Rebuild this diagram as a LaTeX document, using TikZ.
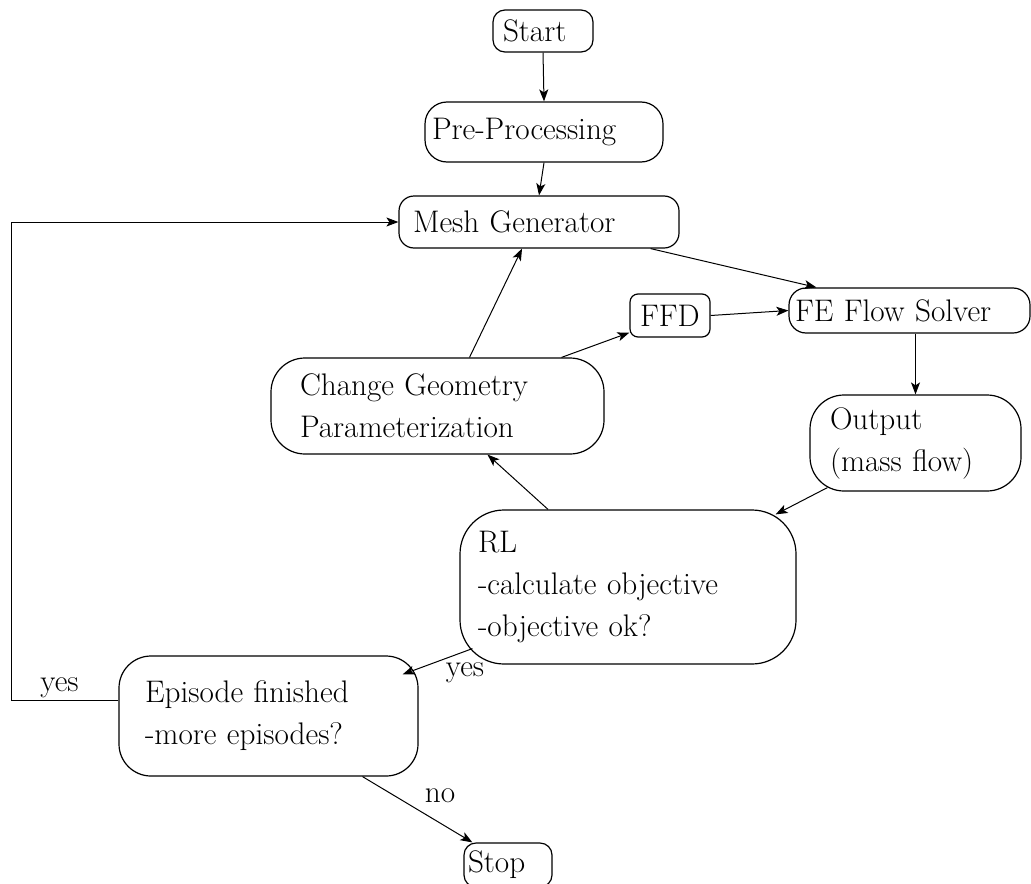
\documentclass[tikz,border=0pt]{standalone}
\usetikzlibrary{arrows.meta,calc}
\begin{document}
\begin{tikzpicture}[x=0.5pt,y=-0.5pt,
  font=\fontsize{15.6}{21}\selectfont,
  box/.style={draw,line width=0.6pt,align=left,inner ysep=0pt},
  arr/.style={-{Stealth[length=6pt,width=4.5pt,inset=1.5pt]},line width=0.5pt},
  lbl/.style={inner sep=1pt}]
\useasboundingbox (0,0) rectangle (1031,883);
\node[box,rounded corners=6pt,minimum height=21pt,text width=40pt,inner xsep=5pt] (start) at (543,31) {Start};
\node[box,rounded corners=11pt,minimum height=30pt,text width=112pt,inner xsep=3.5pt] (pre) at (544,132) {Pre-Processing};
\node[box,rounded corners=7.5pt,minimum height=26pt,text width=126pt,inner xsep=7pt] (mesh) at (539,222) {Mesh Generator};
\node[box,rounded corners=4pt,minimum height=21.5pt,text width=30pt,inner xsep=5pt] (ffd) at (670,315.5) {FFD};
\node[box,rounded corners=8.5pt,minimum height=22.5pt,text width=114.5pt,inner xsep=3pt] (fe) at (909.5,310.5) {FE Flow Solver};
\node[box,rounded corners=17pt,minimum height=48pt,text width=137.5pt,inner xsep=14.5pt] (change) at (437.5,406) {Change Geometry\\Parameterization};
\node[box,rounded corners=17pt,minimum height=48pt,text width=85.5pt,inner xsep=10pt] (output) at (915.5,443) {Output\\(mass flow)};
\node[box,rounded corners=22pt,minimum height=77pt,text width=150pt,inner xsep=9pt] (rl) at (628,587) {RL\\-calculate objective\\-objective ok?};
\node[box,rounded corners=16pt,minimum height=60pt,text width=123.5pt,inner xsep=13pt] (episode) at (268.5,716) {Episode finished\\-more episodes?};
\node[box,rounded corners=6pt,minimum height=22pt,text width=40pt,inner xsep=2pt] (stop) at (508,865) {Stop};

\draw[arr] (start.south) -- (pre.north);
\draw[arr] (pre.south) -- (mesh.north);
\draw[arr] ([yshift=8pt]episode.west) -- node[lbl,above,pos=0.55]{yes} ++(-107,0) |- (mesh.west);
\draw[arr] ([xshift=-14.5pt]mesh.south east) -- ([xshift=14pt]fe.north west);
\draw[arr] ([xshift=16pt]change.north) -- ([xshift=-8.5pt]mesh.south);
\draw[arr] ([xshift=62pt]change.north) -- ([yshift=2.5pt]ffd.south west);
\draw[arr] (ffd.east) -- (fe.west);
\draw[arr] (output.north |- fe.south) -- (output.north);
\draw[arr] ([xshift=9pt,yshift=2pt]output.south west) -- ([xshift=-10.5pt,yshift=-2.5pt]rl.north east);
\draw[arr] ([xshift=-40pt]rl.north) -- ([xshift=25pt]change.south);
\draw[arr] ([xshift=6.5pt,yshift=8pt]rl.south west) -- ([xshift=-8pt,yshift=-9.5pt]episode.north east);
\node[lbl] (yes2) at (465,673) {yes};
\draw[arr] ([xshift=47pt]episode.south) -- ([xshift=4.5pt]stop.north west);
\node[lbl] (no) at (440,796) {no};
\end{tikzpicture}
\end{document}
